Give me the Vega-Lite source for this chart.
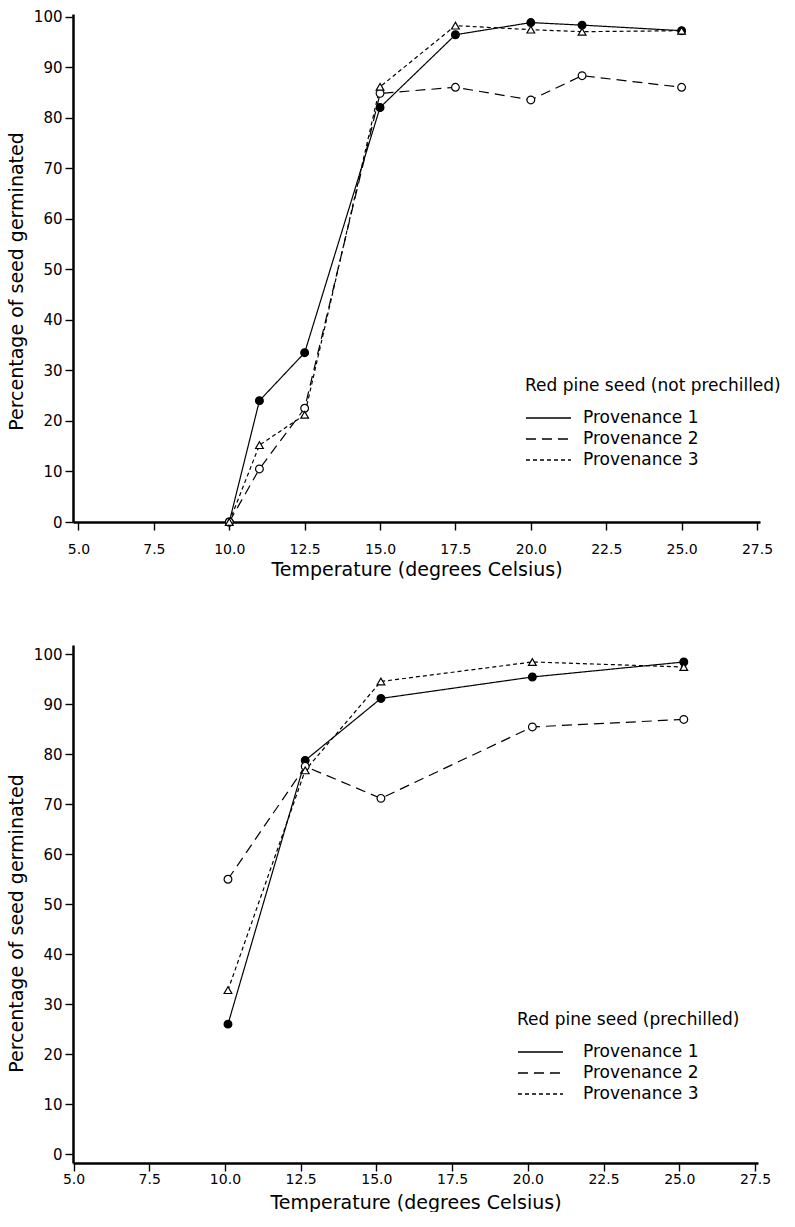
{
  "$schema": "https://vega.github.io/schema/vega-lite/v6.json",
  "background": "white",
  "padding": {"left": 7, "top": 9, "right": 5, "bottom": 0},
  "config": {
    "font": "DejaVu Sans",
    "view": {"stroke": null},
    "axis": {
      "domainColor": "black", "domainWidth": 2.5,
      "tickColor": "black", "tickWidth": 1.4, "tickSize": 8,
      "labelColor": "black", "labelFontSize": 15, "labelFont": "DejaVu Sans",
      "titleColor": "black", "titleFontWeight": "normal", "titleFontSize": 19, "titleFont": "DejaVu Sans",
      "grid": false, "labelFlush": false, "labelOverlap": false
    },
    "legend": {
      "labelColor": "black", "labelFontSize": 17, "labelFont": "DejaVu Sans",
      "titleColor": "black", "titleFontWeight": "normal", "titleFontSize": 17, "titleFont": "DejaVu Sans",
      "titleLimit": 400, "labelLimit": 300, "padding": 0, "symbolSize": 400, "rowPadding": 2
    }
  },
  "resolve": {
    "scale": {"shape": "independent", "fill": "independent", "strokeDash": "independent"},
    "legend": {"shape": "independent", "fill": "independent", "strokeDash": "independent"}
  },
  "spacing": 66,
  "vconcat": [
    {
      "width": 687,
      "height": 508,
      "data": {"values": [
        {"temp": 10, "pct": 0, "provenance": "Provenance 1"},
        {"temp": 11, "pct": 24, "provenance": "Provenance 1"},
        {"temp": 12.5, "pct": 33.5, "provenance": "Provenance 1"},
        {"temp": 15, "pct": 82, "provenance": "Provenance 1"},
        {"temp": 17.5, "pct": 96.4, "provenance": "Provenance 1"},
        {"temp": 20, "pct": 98.8, "provenance": "Provenance 1"},
        {"temp": 21.7, "pct": 98.3, "provenance": "Provenance 1"},
        {"temp": 25, "pct": 97.2, "provenance": "Provenance 1"},
        {"temp": 10, "pct": 0, "provenance": "Provenance 2"},
        {"temp": 11, "pct": 10.5, "provenance": "Provenance 2"},
        {"temp": 12.5, "pct": 22.5, "provenance": "Provenance 2"},
        {"temp": 15, "pct": 84.8, "provenance": "Provenance 2"},
        {"temp": 17.5, "pct": 86, "provenance": "Provenance 2"},
        {"temp": 20, "pct": 83.5, "provenance": "Provenance 2"},
        {"temp": 21.7, "pct": 88.3, "provenance": "Provenance 2"},
        {"temp": 25, "pct": 86, "provenance": "Provenance 2"},
        {"temp": 10, "pct": 0, "provenance": "Provenance 3"},
        {"temp": 11, "pct": 15.2, "provenance": "Provenance 3"},
        {"temp": 12.5, "pct": 21.2, "provenance": "Provenance 3"},
        {"temp": 15, "pct": 86.1, "provenance": "Provenance 3"},
        {"temp": 17.5, "pct": 98.2, "provenance": "Provenance 3"},
        {"temp": 20, "pct": 97.4, "provenance": "Provenance 3"},
        {"temp": 21.7, "pct": 97, "provenance": "Provenance 3"},
        {"temp": 25, "pct": 97.2, "provenance": "Provenance 3"}
      ]},
      "encoding": {
        "x": {"field": "temp", "type": "quantitative",
          "scale": {"domain": [4.818, 27.6], "nice": false, "zero": false},
          "axis": {"title": "Temperature (degrees Celsius)", "values": [5, 7.5, 10, 12.5, 15, 17.5, 20, 22.5, 25, 27.5], "format": ".1f", "labelFontSize": 14, "labelPadding": 12, "titlePadding": 4}},
        "y": {"field": "pct", "type": "quantitative",
          "scale": {"domain": [0, 100.5], "nice": false},
          "axis": {"title": "Percentage of seed germinated", "values": [0, 10, 20, 30, 40, 50, 60, 70, 80, 90, 100], "labelPadding": 3, "titlePadding": 7, "titleY": 267}}
      },
      "layer": [
        {
          "mark": {"type": "line", "color": "black", "strokeWidth": 1.2},
          "encoding": {
            "strokeDash": {"field": "provenance", "type": "nominal",
              "scale": {"domain": ["Provenance 1", "Provenance 2", "Provenance 3"], "range": [[1, 0], [10, 6], [4, 3]]},
              "legend": {
                "title": "Red pine seed (not prechilled)",
                "orient": "none", "legendX": 452, "legendY": 364,
                "symbolType": "M-1,0L3.5,0", "symbolSize": 400,
                "symbolStrokeWidth": 1.3, "symbolStrokeColor": "black",
                "titlePadding": 12, "rowPadding": 2, "labelOffset": 36
              }}
          }
        },
        {
          "mark": {"type": "point", "filled": true, "stroke": "black", "strokeWidth": 1.2, "size": 60, "opacity": 1},
          "encoding": {
            "shape": {"field": "provenance", "type": "nominal",
              "scale": {"range": ["circle", "circle", "triangle-up"]}, "legend": null},
            "fill": {"field": "provenance", "type": "nominal",
              "scale": {"range": ["black", "white", "white"]}, "legend": null}
          }
        }
      ]
    },
    {
      "width": 685,
      "height": 518,
      "data": {"values": [
        {"temp": 10.1, "pct": 26, "provenance": "Provenance 1"},
        {"temp": 12.65, "pct": 78.8, "provenance": "Provenance 1"},
        {"temp": 15.15, "pct": 91.2, "provenance": "Provenance 1"},
        {"temp": 20.15, "pct": 95.5, "provenance": "Provenance 1"},
        {"temp": 25.15, "pct": 98.5, "provenance": "Provenance 1"},
        {"temp": 10.1, "pct": 55, "provenance": "Provenance 2"},
        {"temp": 12.65, "pct": 77.6, "provenance": "Provenance 2"},
        {"temp": 15.15, "pct": 71.2, "provenance": "Provenance 2"},
        {"temp": 20.15, "pct": 85.5, "provenance": "Provenance 2"},
        {"temp": 25.15, "pct": 87, "provenance": "Provenance 2"},
        {"temp": 10.1, "pct": 32.8, "provenance": "Provenance 3"},
        {"temp": 12.65, "pct": 76.8, "provenance": "Provenance 3"},
        {"temp": 15.15, "pct": 94.6, "provenance": "Provenance 3"},
        {"temp": 20.15, "pct": 98.5, "provenance": "Provenance 3"},
        {"temp": 25.15, "pct": 97.5, "provenance": "Provenance 3"}
      ]},
      "encoding": {
        "x": {"field": "temp", "type": "quantitative",
          "scale": {"domain": [4.983, 27.6], "nice": false, "zero": false},
          "axis": {"title": "Temperature (degrees Celsius)", "values": [5, 7.5, 10, 12.5, 15, 17.5, 20, 22.5, 25, 27.5], "format": ".1f", "labelFontSize": 14, "labelPadding": 1, "titlePadding": 7}},
        "y": {"field": "pct", "type": "quantitative",
          "scale": {"domain": [-1.8, 101.9], "nice": false, "zero": false},
          "axis": {"title": "Percentage of seed germinated", "values": [0, 10, 20, 30, 40, 50, 60, 70, 80, 90, 100], "labelPadding": 3, "titlePadding": 7, "titleY": 278}}
      },
      "layer": [
        {
          "mark": {"type": "line", "color": "black", "strokeWidth": 1.2},
          "encoding": {
            "strokeDash": {"field": "provenance", "type": "nominal",
              "scale": {"domain": ["Provenance 1", "Provenance 2", "Provenance 3"], "range": [[1, 0], [10, 6], [4, 3]]},
              "legend": {
                "title": "Red pine seed (prechilled)",
                "orient": "none", "legendX": 444, "legendY": 367,
                "symbolType": "M-1,0L3.5,0", "symbolSize": 400,
                "symbolStrokeWidth": 1.3, "symbolStrokeColor": "black",
                "titlePadding": 12, "rowPadding": 2, "labelOffset": 44
              }}
          }
        },
        {
          "mark": {"type": "point", "filled": true, "stroke": "black", "strokeWidth": 1.2, "size": 60, "opacity": 1},
          "encoding": {
            "shape": {"field": "provenance", "type": "nominal",
              "scale": {"range": ["circle", "circle", "triangle-up"]}, "legend": null},
            "fill": {"field": "provenance", "type": "nominal",
              "scale": {"range": ["black", "white", "white"]}, "legend": null}
          }
        }
      ]
    }
  ]
}
